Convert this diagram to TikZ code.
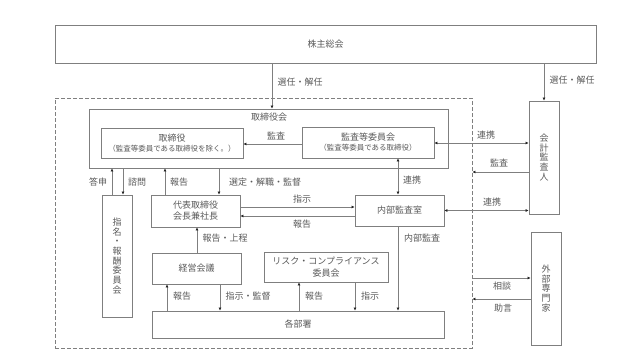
\documentclass[tikz,border=0pt]{standalone}
\usepackage{fontspec}
\setmainfont{Noto Sans CJK JP}
\usetikzlibrary{arrows.meta}
\definecolor{txt}{HTML}{595959}
\definecolor{ln}{HTML}{7F7F7F}
\definecolor{tip}{HTML}{262626}
\begin{document}
\begin{tikzpicture}[x=1pt,y=-1pt,
  bx/.style={draw=ln,line width=0.9pt,inner sep=0pt,text=txt,align=center,
    font=\fontsize{9}{12}\selectfont},
  vt/.style={bx,font={\fontsize{9}{9.7}\selectfont\lineskiplimit-20pt\relax}},
  arr/.style={draw=ln,line width=0.9pt,-{Latex[length=3pt,width=3pt,color=tip]}},
  darr/.style={draw=ln,line width=0.9pt,{Latex[length=3pt,width=3pt,color=tip]}-{Latex[length=3pt,width=3pt,color=tip]}},
  lbl/.style={text=txt,inner sep=0pt,font=\fontsize{9}{11}\selectfont}]
\useasboundingbox (0,0) rectangle (640,360);
% group (dashed)
\node[draw=ln,line width=0.9pt,dash pattern=on 4pt off 2pt,inner sep=0pt,
  minimum width=417,minimum height=250] (grp) at (263.5,223) {};
% boxes
\node[bx,minimum width=541,minimum height=38] (soukai) at (325.5,44) {株主総会};
\node[draw=ln,line width=0.9pt,inner sep=0pt,minimum width=359,minimum height=59] (torikai) at (268.5,138.5) {};
\node[lbl] (torikaiT) at (269,117) {取締役会};
\node[bx,minimum width=142,minimum height=30] (tori) at (172,143)
  {取締役\\[-2pt]{\fontsize{7.5}{9}\selectfont（監査等委員である取締役を除く。）}};
\node[bx,minimum width=132,minimum height=31] (kansa) at (368,142.5)
  {監査等委員会\\[-2pt]{\fontsize{7.5}{9}\selectfont（監査等委員である取締役）}};
\node[vt,minimum width=30,minimum height=113] (kaikei) at (544,157.5) {会\\計\\監\\査\\人};
\node[bx,minimum width=89,minimum height=31] (naibu) at (399.5,210.5) {内部監査室};
\node[vt,minimum width=30,minimum height=113] (gaibu) at (546,288.5) {外\\部\\専\\門\\家};
\node[bx,minimum width=292,minimum height=27] (kakubu) at (298,324.5) {各部署};
\node[bx,minimum width=89,minimum height=32,font=\fontsize{9}{11}\selectfont] (daihyo) at (195.5,211) {代表取締役\\会長兼社長};
\node[vt,minimum width=30,minimum height=122] (shimei) at (117,256) {指\\名\\・\\報\\酬\\委\\員\\会};
\node[bx,minimum width=89,minimum height=31] (keiei) at (196.5,268.5) {経営会議};
\node[bx,minimum width=124,minimum height=30] (risk) at (326,267) {リスク・コンプライアンス\\委員会};
% connectors
\draw[arr] (soukai.south -| 272,0) -- (torikai.north -| 272,0);
\node[lbl] (l1) at (300,82) {選任・解任};
\draw[arr] (soukai.south -| kaikei.north) -- (kaikei.north);
\node[lbl] (l2) at (572,80) {選任・解任};
\draw[arr] (kansa.west |- 0,144) -- (tori.east |- 0,144);
\node[lbl] (l3) at (276,136) {監査};
\draw[darr] (kansa.east |- 0,143) -- (kaikei.west |- 0,143);
\node[lbl] (l4) at (486,135) {連携};
\draw[arr] (kaikei.west |- 0,172) -- (grp.east |- 0,172);
\node[lbl] (l5) at (499,163) {監査};
\draw[darr] (kansa.south -| 398,0) -- (naibu.north -| 398,0);
\node[lbl] (l6) at (412,180) {連携};
\draw[darr] (naibu.east) -- (naibu.east -| kaikei.west);
\node[lbl] (l7) at (492,202) {連携};
\draw[arr] (daihyo.east |- 0,207) -- (naibu.west |- 0,207);
\node[lbl] (l8) at (302,199) {指示};
\draw[arr] (naibu.west |- 0,216) -- (daihyo.east |- 0,216);
\node[lbl] (l9) at (302,224) {報告};
\draw[arr] (torikai.south -| 219,0) -- (daihyo.north -| 219,0);
\node[lbl] (l10) at (265,182) {選定・解職・監督};
\draw[arr] (daihyo.north -| 165,0) -- (torikai.south -| 165,0);
\node[lbl] (l11) at (179,182) {報告};
\draw[arr] (shimei.north -| 112,0) -- (torikai.south -| 112,0);
\node[lbl] (l12) at (98,182) {答申};
\draw[arr] (torikai.south -| 123,0) -- (shimei.north -| 123,0);
\node[lbl] (l13) at (137,182) {諮問};
\draw[arr] (keiei.north -| 197,0) -- (daihyo.south -| 197,0);
\node[lbl] (l14) at (225,238) {報告・上程};
\draw[arr] (naibu.south -| 398,0) -- (kakubu.north -| 398,0);
\node[lbl] (l15) at (422,238) {内部監査};
\draw[arr] (kakubu.north -| 167,0) -- (keiei.south -| 167,0);
\node[lbl] (l16) at (182,296) {報告};
\draw[arr] (keiei.south -| 220,0) -- (kakubu.north -| 220,0);
\node[lbl] (l17) at (248,296) {指示・監督};
\draw[arr] (kakubu.north -| 299,0) -- (risk.south -| 299,0);
\node[lbl] (l18) at (314,296) {報告};
\draw[arr] (risk.south -| 355,0) -- (kakubu.north -| 355,0);
\node[lbl] (l19) at (370,296) {指示};
\draw[arr] (grp.east |- 0,278) -- (gaibu.west |- 0,278);
\node[lbl] (l20) at (502,286) {相談};
\draw[arr] (gaibu.west |- 0,299) -- (grp.east |- 0,299);
\node[lbl] (l21) at (503,308) {助言};
\end{tikzpicture}
\end{document}
